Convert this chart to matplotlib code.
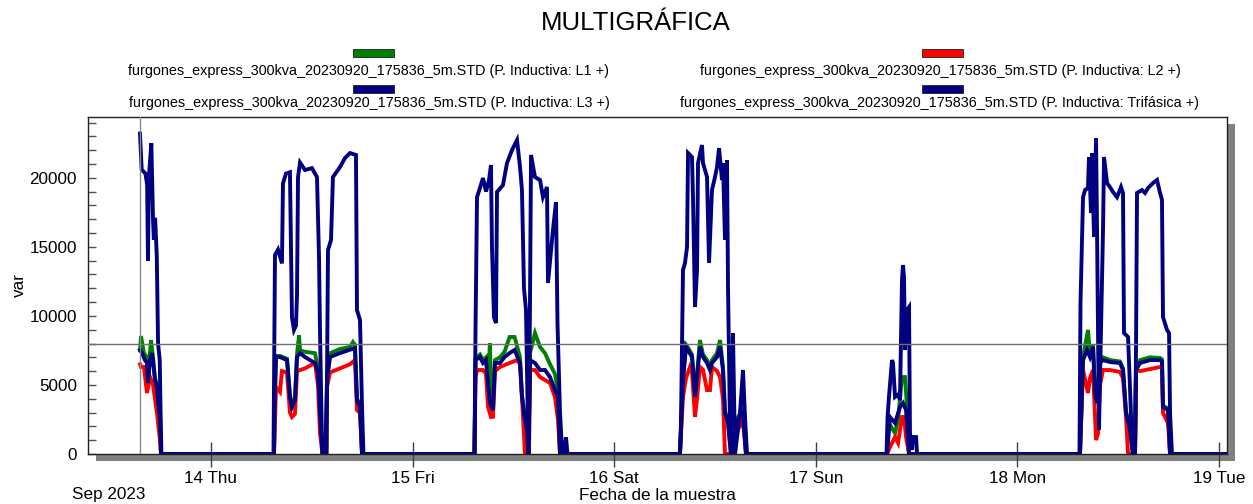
import matplotlib
matplotlib.use("Agg")
import matplotlib.pyplot as plt
from matplotlib.patches import Rectangle
from matplotlib.ticker import MultipleLocator

plt.rcParams['font.family'] = ['Liberation Sans', 'DejaVu Sans']

# ---------------- data (hours since 2023-09-13 00:00, var) ----------------
series_names = [
    "furgones_express_300kva_20230920_175836_5m.STD (P. Inductiva: L1 +)",
    "furgones_express_300kva_20230920_175836_5m.STD (P. Inductiva: L2 +)",
    "furgones_express_300kva_20230920_175836_5m.STD (P. Inductiva: L3 +)",
    "furgones_express_300kva_20230920_175836_5m.STD (P. Inductiva: Trifásica +)",
]
series_colors = ["#008000", "#ff0000", "#000080", "#000080"]

l1_pts = [
    (15.55, 7500), (15.67, 8540), (16.02, 7300), (16.38, 7000), (16.50, 5500), (16.86, 8250),
    (17.10, 7000), (17.33, 5500), (17.57, 5000), (17.81, 3400), (17.93, 2600), (18.05, 0),
    (31.50, 0), (31.74, 7100), (32.21, 7100), (33.05, 6900), (33.40, 4300), (33.64, 3600),
    (34.00, 4000), (34.24, 7200), (34.48, 8600), (34.60, 7500), (35.19, 7400), (36.38, 7300),
    (36.74, 6200), (36.98, 3200), (37.27, 0), (37.74, 0), (37.81, 5500), (38.17, 7300),
    (39.36, 7600), (40.55, 7750), (40.90, 8100), (41.14, 7900), (41.38, 4000), (41.74, 3600), (41.98, 0),
    (55.37, 0), (55.49, 6900), (56.02, 7200), (56.38, 6800), (56.74, 7000), (56.98, 5300),
    (57.21, 8030), (57.33, 4500), (57.57, 3400), (57.81, 6800), (58.40, 7000), (58.95, 7400),
    (59.55, 8470), (60.14, 8470), (60.79, 7000), (61.02, 4300), (61.38, 2600), (61.80, 0),
    (61.98, 7300), (62.57, 8760), (63.17, 7750), (63.76, 7300), (64.36, 6500), (64.95, 5800),
    (65.31, 4500), (65.55, 0),
    (79.83, 0), (80.19, 5500), (80.55, 7900), (80.79, 7700), (81.26, 7200), (81.62, 4300),
    (81.86, 5800), (82.21, 8250), (82.57, 7200), (83.05, 6800), (83.40, 6300), (83.64, 6800),
    (84.24, 7300), (84.60, 8250), (84.95, 6300), (85.19, 3100), (85.55, 2400), (85.90, 0),
    (86.14, 0), (86.38, 2400), (86.98, 2900), (87.33, 3200), (87.69, 0),
    (104.48, 0), (104.71, 2240), (105.43, 1500), (105.79, 2500), (106.26, 5570), (106.62, 5570),
    (106.86, 3400), (107.10, 0),
    (127.45, 0), (127.81, 7000), (128.40, 8980), (128.64, 7200), (129.00, 7900), (129.24, 4600),
    (129.48, 3800), (129.83, 6800), (130.19, 7000), (131.02, 6800), (132.21, 6700), (132.57, 6200),
    (132.93, 3100), (133.40, 1800), (133.76, 0), (134.00, 0), (134.12, 6300), (134.60, 6800),
    (135.19, 6900), (135.79, 7000), (136.98, 6950), (137.21, 6850), (137.33, 3500), (137.93, 3300),
    (138.17, 0), (144.90, 0),
]

l2_pts = [
    (15.55, 6500), (15.67, 6300), (16.02, 6300), (16.38, 4420), (16.74, 5570), (17.10, 5000),
    (17.57, 2970), (17.93, 1000), (18.05, 0),
    (31.50, 0), (31.74, 4850), (32.21, 4500), (32.45, 6000), (33.05, 5900), (33.40, 3000),
    (33.64, 2680), (34.00, 2900), (34.24, 6000), (34.60, 6080), (35.19, 6200), (36.38, 6590),
    (36.74, 5000), (36.98, 1500), (37.27, 0), (37.74, 0), (37.81, 4850), (38.17, 5900),
    (39.36, 6200), (40.55, 6500), (41.14, 6800), (41.38, 3190), (41.74, 2970), (41.98, 0),
    (55.37, 0), (55.49, 5500), (55.67, 6080), (56.38, 6080), (56.74, 5800), (56.98, 3400),
    (57.33, 2680), (57.57, 2700), (57.81, 6000), (58.40, 6300), (59.55, 6590), (60.43, 6800),
    (60.79, 6500), (61.02, 4130), (61.38, 0), (61.86, 0), (61.98, 6080), (62.57, 6080),
    (63.17, 5570), (64.36, 5140), (64.95, 4130), (65.31, 2460), (65.55, 0),
    (79.83, 0), (80.19, 4130), (80.55, 5500), (81.02, 6300), (81.26, 6000), (81.62, 2680),
    (81.86, 4000), (82.21, 6300), (82.57, 6100), (83.05, 4630), (83.40, 4630), (83.64, 6300),
    (84.24, 6000), (84.60, 5570), (84.95, 4000), (85.19, 0), (86.14, 0), (86.38, 1500),
    (86.98, 2000), (87.33, 2500), (87.69, 0),
    (104.48, 0), (104.83, 500), (105.43, 1230), (105.79, 800), (106.26, 2680), (106.50, 2680),
    (106.74, 1230), (107.10, 0),
    (127.45, 0), (127.81, 6080), (128.40, 4420), (128.64, 5500), (129.00, 6080), (129.36, 1010),
    (129.60, 1500), (129.83, 5000), (130.19, 6080), (131.02, 6080), (132.21, 5940), (132.57, 5500),
    (132.93, 2680), (133.17, 0), (134.00, 0), (134.12, 6080), (134.60, 6000), (136.98, 6300),
    (137.21, 6300), (137.33, 2970), (137.93, 2240), (138.17, 0), (144.90, 0),
]

l3_pts = [
    (15.55, 7530), (15.79, 7310), (16.14, 6800), (16.38, 6600), (16.50, 5140), (16.74, 6800),
    (16.98, 7310), (17.21, 6080), (17.33, 5360), (17.57, 4850), (17.81, 3190), (17.93, 2460), (18.05, 0),
    (31.50, 0), (31.62, 5000), (31.74, 7020), (32.21, 7020), (33.05, 6800), (33.40, 4130),
    (33.64, 3400), (34.00, 3910), (34.24, 7020), (34.60, 7310), (35.19, 7020), (36.38, 6590),
    (36.74, 5860), (36.98, 2970), (37.27, 0), (37.74, 0), (37.81, 5360), (38.17, 7020),
    (39.36, 7310), (41.14, 7670), (41.38, 3910), (41.74, 3400), (41.98, 0),
    (55.37, 0), (55.49, 6800), (56.02, 7020), (56.38, 6590), (56.74, 6800), (56.98, 5140),
    (57.21, 3690), (57.57, 3190), (57.81, 6590), (58.40, 6590), (58.95, 7020), (59.55, 7310),
    (60.14, 7530), (60.79, 6590), (61.02, 4130), (61.38, 2460), (61.62, 1740), (61.80, 0),
    (61.98, 6800), (62.57, 6590), (63.17, 6080), (63.76, 6080), (64.36, 5570), (64.95, 4630),
    (65.31, 4130), (65.55, 0),
    (79.83, 0), (80.19, 5360), (80.55, 7750), (80.79, 7530), (81.26, 7020), (81.62, 4130),
    (81.86, 5570), (82.21, 7750), (82.57, 7020), (83.05, 6590), (83.40, 6080), (83.64, 6590),
    (84.24, 7020), (84.60, 7750), (84.95, 6080), (85.19, 2970), (85.55, 2240), (85.90, 0),
    (86.14, 0), (86.38, 2240), (86.98, 2680), (87.33, 2970), (87.69, 0),
    (104.48, 0), (104.83, 2680), (105.43, 2240), (106.02, 3400), (106.38, 3690), (106.74, 3190), (107.10, 0),
    (127.45, 0), (127.81, 6800), (128.29, 7530), (128.64, 7020), (129.00, 7750), (129.24, 4420),
    (129.48, 3690), (129.83, 6590), (130.19, 6800), (131.02, 6660), (132.21, 6590), (132.57, 6080),
    (132.93, 2970), (133.40, 1740), (133.76, 0), (134.00, 0), (134.12, 6080), (134.60, 6590),
    (135.79, 6800), (136.98, 6800), (137.21, 6700), (137.33, 3400), (137.93, 3190), (138.17, 0),
    (144.90, 0),
]

tri_pts = [
    (15.55, 23200), (15.75, 20600), (16.20, 20300), (16.40, 19500), (16.50, 14000), (16.60, 20000),
    (16.90, 22500), (17.10, 17000), (17.20, 15500), (17.35, 17100), (17.55, 14300), (17.70, 8000),
    (17.90, 6800), (18.00, 3000), (18.10, 0),
    (31.44, 0), (31.62, 14400), (31.98, 14800), (32.45, 13800), (32.57, 19600), (32.93, 20300),
    (33.40, 20400), (33.52, 15000), (33.64, 9900), (33.88, 8980), (34.12, 9300), (34.24, 11500),
    (34.36, 20050), (34.60, 21100), (35.19, 20560), (36.02, 20700), (36.62, 20050), (36.86, 14260),
    (36.98, 8760), (37.21, 1010), (37.39, 0), (37.63, 0), (37.81, 5360), (37.93, 14770),
    (38.29, 15500), (38.52, 20050), (39.36, 20780), (39.95, 21430), (40.55, 21790), (41.26, 21650),
    (41.38, 10420), (41.74, 9700), (41.98, 3400), (42.15, 0),
    (55.37, 0), (55.49, 8980), (55.67, 18600), (56.02, 19260), (56.38, 19980), (56.74, 19000),
    (57.10, 19840), (57.33, 20920), (57.45, 15000), (57.69, 9900), (57.93, 9480), (58.05, 18970),
    (58.76, 19470), (59.24, 21070), (59.83, 22000), (60.43, 22730), (60.79, 20780), (61.02, 19110),
    (61.26, 12000), (61.50, 10420), (61.74, 1740), (61.86, 1000), (62.10, 21650), (62.57, 20050),
    (63.17, 19840), (63.52, 18600), (64.00, 19330), (64.12, 12380), (64.71, 16220), (65.07, 18240),
    (65.25, 9480), (65.55, 2970), (65.79, 290), (66.02, 0), (66.26, 1200), (66.44, 0),
    (79.83, 0), (79.95, 2240), (80.19, 13320), (80.43, 13830), (80.67, 14990), (80.79, 21790),
    (81.26, 21500), (81.38, 18600), (81.62, 10640), (81.86, 13320), (81.98, 21070), (82.45, 22370),
    (82.57, 21070), (83.05, 20050), (83.29, 13830), (83.64, 19110), (84.00, 20050), (84.24, 20780),
    (84.48, 22150), (84.83, 19840), (84.95, 21070), (85.19, 15500), (85.43, 21280), (85.55, 12090),
    (85.79, 1740), (86.02, 0), (86.14, 8760), (86.38, 0), (86.98, 2970), (87.33, 6080),
    (87.57, 2680), (87.81, 0),
    (104.42, 0), (104.54, 2680), (104.71, 4130), (105.07, 6800), (105.19, 6600), (105.43, 4130),
    (105.79, 4300), (106.02, 3910), (106.26, 12600), (106.38, 13680), (106.50, 12800), (106.62, 7530),
    (106.86, 10420), (107.10, 10640), (107.21, 1520), (107.45, 290), (107.57, 1230), (107.93, 1230),
    (108.05, 0),
    (127.39, 0), (127.51, 10930), (127.81, 18600), (128.05, 19110), (128.40, 19260), (128.52, 21500),
    (128.76, 17450), (128.88, 21790), (129.12, 15710), (129.36, 22880), (129.48, 16220), (129.71, 1740),
    (129.95, 8980), (130.19, 16220), (130.31, 21500), (130.67, 19620), (131.02, 19330), (131.38, 18970),
    (131.86, 18600), (132.33, 19330), (132.57, 18900), (132.69, 8760), (133.17, 8470), (133.40, 4850),
    (133.64, 800), (133.76, 0), (134.00, 0), (134.12, 7750), (134.24, 18900), (134.83, 19110),
    (135.19, 18900), (135.55, 19260), (136.14, 19620), (136.62, 19840), (136.98, 18900), (137.21, 18390),
    (137.33, 9920), (137.81, 8980), (138.05, 8760), (138.17, 2970), (138.40, 0),
    (144.90, 0),
]

day_ticks = [24, 48, 72, 96, 120, 144]
day_labels = ["14 Thu", "15 Fri", "16 Sat", "17 Sun", "18 Mon", "19 Tue"]
y_major = [0, 5000, 10000, 15000, 20000]
ref_level = 8000
cursor_hour = 15.55

# ---------------- figure ----------------
W, H = 1253, 504
fig = plt.figure(figsize=(W / 100, H / 100), dpi=100)
fig.patch.set_facecolor("white")

ax_l, ax_r, ax_t, ax_b = 88, 1227, 117, 454
ax = fig.add_axes([ax_l / W, 1 - ax_b / H, (ax_r - ax_l) / W, (ax_b - ax_t) / H])
ax.set_zorder(1)

# drop shadow
shadow = Rectangle(((ax_l + 8) / W, 1 - (ax_b + 7) / H), (ax_r - ax_l) / W, (ax_b - ax_t) / H,
                   transform=fig.transFigure, facecolor="#808080", edgecolor="none", zorder=0)
fig.patches.append(shadow)

for pts, col in zip([l1_pts, l2_pts, l3_pts, tri_pts], series_colors):
    xs = [p[0] for p in pts]
    ys = [p[1] for p in pts]
    ax.plot(xs, ys, color=col, lw=2.8, solid_joinstyle="miter", zorder=2)

ax.axhline(ref_level, color="#707070", lw=1.0, zorder=4)
ax.axvline(cursor_hour, color="#8a8a8a", lw=1.0, zorder=4)

ax.set_xlim(9.36, 144.95)
ax.set_ylim(0, 24400)

ax.set_xticks(day_ticks)
ax.set_xticklabels(day_labels)
ax.set_yticks(y_major)
ax.yaxis.set_minor_locator(MultipleLocator(1000))
ax.tick_params(axis="y", which="both", direction="in", length=6, width=1, color="#505050",
               labelsize=12.3, pad=8)
ax.tick_params(axis="x", which="major", direction="inout", length=18, width=1, color="#404040",
               labelsize=12.3, pad=3)
for s in ax.spines.values():
    s.set_color("#202020")
    s.set_linewidth(1.0)

# texts
fig.text(636 / W, 1 - 23 / H, "MULTIGRÁFICA", ha="center", va="center", fontsize=18.5)
fig.text(19 / W, 1 - 285 / H, "var", rotation=90, ha="center", va="center", fontsize=12.3)
fig.text(657 / W, 1 - 496 / H, "Fecha de la muestra", ha="center", va="center", fontsize=12.3)
fig.text(72 / W, 1 - 495 / H, "Sep 2023", ha="left", va="center", fontsize=12.3)

# legend (patch centred above text)
leg_pos = [(373, 53, 369, 71), (942, 53, 940, 71), (373, 89, 369, 103), (942, 89, 940, 103)]
for (px, py, tx, ty), name, col in zip(leg_pos, series_names, series_colors):
    fig.patches.append(Rectangle(((px - 20.5) / W, 1 - (py + 4) / H), 41 / W, 8 / H,
                                 transform=fig.transFigure, facecolor=col,
                                 edgecolor="#202020", lw=0.6))
    fig.text(tx / W, 1 - ty / H, name, ha="center", va="center", fontsize=10.35)

fig.savefig("out.png", dpi=100)
